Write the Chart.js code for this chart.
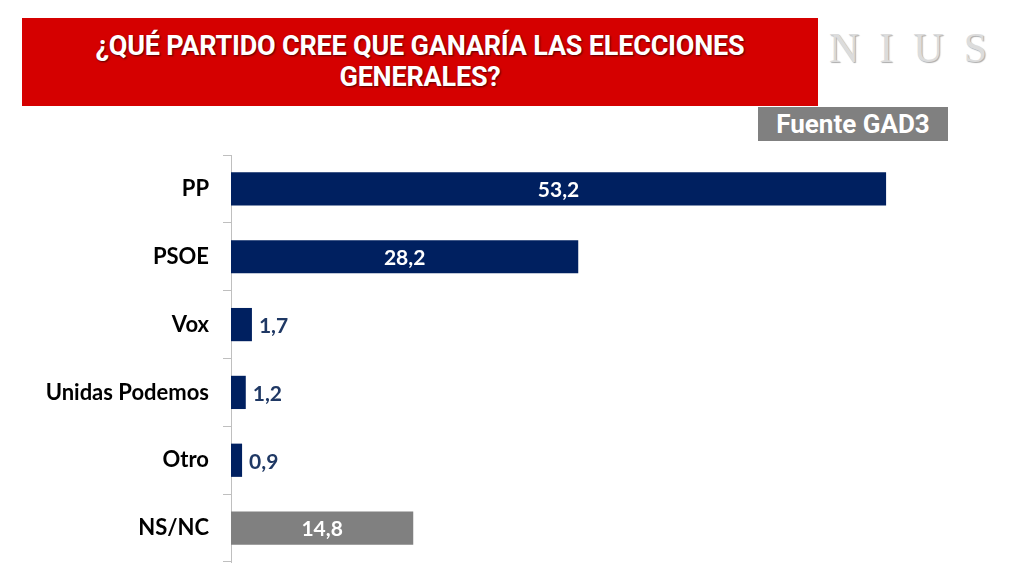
<!DOCTYPE html>
<html><head><meta charset="utf-8">
<script src="https://cdn.jsdelivr.net/npm/chart.js@4/dist/chart.umd.min.js"></script>
<style>
html,body{margin:0;padding:0;background:#fff;width:1024px;height:576px;overflow:hidden;font-family:Lato,"Open Sans",sans-serif}
#title{position:absolute;left:22px;top:18px;width:796px;height:88px;background:#D50000;color:#fff;display:flex;align-items:center;justify-content:center;text-align:center;font-family:"Liberation Sans Narrow","Roboto",sans-serif;font-weight:bold;font-size:27px;line-height:31px;text-shadow:1px 1px 2px rgba(0,0,0,0.6);letter-spacing:-0.2px}
#logo{position:absolute;left:829px;top:24px;font-family:"Liberation Serif","DejaVu Serif",serif;font-size:42px;color:#dcdcdc;letter-spacing:20px;text-shadow:1px 1px 1px #aaa}
#src{position:absolute;left:758px;top:107px;width:190px;height:34px;background:#808080;color:#fff;font-family:"Liberation Sans Narrow",Roboto,sans-serif;font-weight:bold;font-size:26px;line-height:34px;text-align:center}
#wrap{position:absolute;left:0;top:0;width:1024px;height:576px}
canvas{display:block}
</style></head><body>
<div id="title">¿QUÉ PARTIDO CREE QUE GANARÍA LAS ELECCIONES<br>GENERALES?</div>
<div id="logo">NIUS</div>
<div id="src">Fuente GAD3</div>
<div id="wrap"><canvas id="c" width="1024" height="576"></canvas></div>
<script>
const categories = ["PP","PSOE","Vox","Unidas Podemos","Otro","NS/NC"];
const values = [53.2, 28.2, 1.7, 1.2, 0.9, 14.8];
const labels = ["53,2","28,2","1,7","1,2","0,9","14,8"];
const barColors = ["#002060","#002060","#002060","#002060","#002060","#808080"];

const valuePlugin = {
  id:'vals',
  afterDatasetsDraw(chart){
    const ctx = chart.ctx;
    const meta = chart.getDatasetMeta(0);
    ctx.save();
    ctx.font = 'bold 21px Lato, "Open Sans", sans-serif';
    ctx.textBaseline = 'middle';
    meta.data.forEach((bar,i)=>{
      const w = bar.x - bar.base;
      if (w > 60) {
        ctx.fillStyle = '#ffffff';
        ctx.textAlign = 'center';
        ctx.fillText(labels[i], (bar.x + bar.base)/2, bar.y + 1);
      } else {
        ctx.fillStyle = '#1F3864';
        ctx.textAlign = 'left';
        ctx.fillText(labels[i], bar.x + 7, bar.y + 2);
      }
    });
    ctx.restore();
  }
};

const chart = new Chart(document.getElementById('c'), {
  type:'bar',
  data:{labels:categories, datasets:[{data:values, backgroundColor:barColors, barPercentage:0.49, categoryPercentage:1}]},
  options:{
    indexAxis:'y', responsive:false, animation:false,
    layout:{padding:{top:155,bottom:14,left:0,right:0}},
    plugins:{legend:{display:false},tooltip:{enabled:false}},
    scales:{
      x:{display:false,min:0,max:64.4},
      y:{
        afterFit(s){ s.width = 231; s.paddingBottom = 0; s.paddingTop = 0; },
        border:{display:true,color:'#bfbfbf',width:1},
        grid:{offset:true,drawOnChartArea:false,tickLength:8,color:'#bfbfbf'},
        ticks:{color:'#000',padding:14,font:{family:'Lato, "Open Sans", sans-serif',weight:'bold',size:22}}
      }
    }
  },
  plugins:[valuePlugin]
});
</script>
</body></html>
